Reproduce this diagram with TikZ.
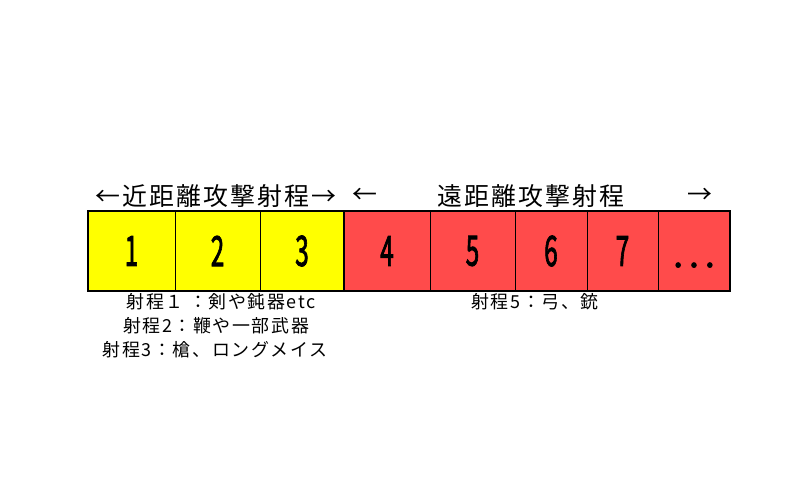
\documentclass[tikz,border=0pt]{standalone}
\usepackage{fontspec}
\setmainfont{Noto Sans CJK JP}
\usepackage{graphicx}
\definecolor{yel}{RGB}{255,255,0}
\definecolor{redc}{RGB}{255,75,75}
\newcommand{\cellnum}[1]{\scalebox{0.58}[1]{\fontsize{42}{42}\selectfont\addfontfeature{FakeBold=2.5}#1}}
\begin{document}
\begin{tikzpicture}[x=1bp,y=-1bp,
  cell/.style={draw=black, line width=0.8bp, minimum height=80bp, inner sep=0pt, outer sep=0pt},
  toplbl/.style={font=\fontsize{25}{25}\selectfont\addfontfeature{LetterSpace=8}, inner sep=0pt},
  botlbl/.style={font=\fontsize{18}{24}\selectfont\addfontfeature{LetterSpace=9}, inner sep=0pt, align=center}]
\useasboundingbox[fill=white] (0,0) rectangle (800,500);
% cells
\node[cell, fill=yel, minimum width=87bp] (c1) at (131.5,251) {\cellnum{1}};
\node[cell, fill=yel, minimum width=85bp] (c2) at (217.5,251) {\cellnum{2}};
\node[cell, fill=yel, minimum width=84bp] (c3) at (302,251) {\cellnum{3}};
\node[cell, fill=redc, minimum width=86bp] (c4) at (387,251) {\cellnum{4}};
\node[cell, fill=redc, minimum width=85bp] (c5) at (472.5,251) {\cellnum{5}};
\node[cell, fill=redc, minimum width=72bp] (c6) at (551,251) {\cellnum{6}};
\node[cell, fill=redc, minimum width=71bp] (c7) at (622.5,251) {\cellnum{7}};
\node[cell, fill=redc, minimum width=72bp] (c8) at (694,251) {\raisebox{-16bp}[0pt][0pt]{\fontsize{34}{34}\selectfont\addfontfeature{FakeBold=3,LetterSpace=19}...}};
% outer frame and group boundary
\draw[line width=2bp] (c1.north west) rectangle (c8.south east);
\draw[line width=2bp] (c3.north east) -- (c3.south east);
% top labels
\node[toplbl] (near) at (216,196) {←近距離攻撃射程→};
\node[toplbl] (la) at (365,196) {←};
\node[toplbl] (far) at (531,196) {遠距離攻撃射程};
\node[toplbl] (ra) at (700,196) {→};
% bottom labels
\node[botlbl] (n1) at (221,302) {射程１ ：剣や鈍器etc};
\node[botlbl] (n2) at (216,326) {射程2：鞭や一部武器};
\node[botlbl] (n3) at (215,350) {射程3：槍、ロングメイス};
\node[botlbl] (f5) at (535,302) {射程5：弓、銃};
\end{tikzpicture}
\end{document}
